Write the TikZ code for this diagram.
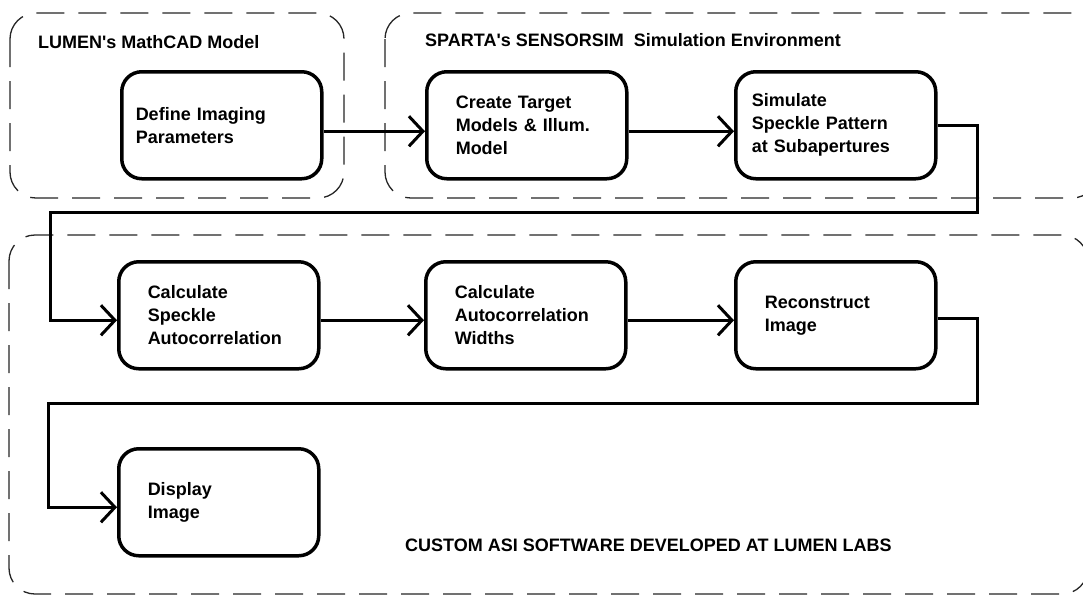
\documentclass[tikz,border=0pt]{standalone}
\usepackage{fontspec}
\setmainfont{Liberation Sans}
\usetikzlibrary{arrows.meta}
\begin{document}
\begin{tikzpicture}[x=1pt,y=-1pt,
  region/.style={draw=black!85, line width=1.3pt, dash pattern=on 28pt off 14pt, rounded corners=26pt},
  box/.style={draw, line width=3.5pt, rounded corners=20pt, minimum height=107pt, align=left, inner ysep=0pt, font=\bfseries\fontsize{18}{23}\selectfont},
  boxA/.style={box, inner xsep=29pt, text width=142pt},
  boxB/.style={box, inner xsep=14pt, text width=172pt},
  boxC/.style={box, inner xsep=16pt, text width=168pt},
  conn/.style={line width=3pt, -{Straight Barb[length=14pt,width=30pt]}},
  lbl/.style={font=\bfseries\fontsize{18}{22}\selectfont, inner sep=0pt}
]
\useasboundingbox (0,0) rectangle (1083,598);
\fill[white] (0,0) rectangle (1083,598);
\clip (0,0) rectangle (1083,598);
\draw[region] (10,13) rectangle (344,198);
\draw[region] (385,13) rectangle (1098,198);
\draw[region] (9,235) rectangle (1088,594);

\node[lbl, anchor=west] (lumen) at (38,42) {LUMEN\textquotesingle s MathCAD Model};
\node[lbl, anchor=west] (sparta) at (425,40) {SPARTA\textquotesingle s SENSORSIM\ \ Simulation Environment};
\node[lbl, anchor=west] (custom) at (405,545) {CUSTOM ASI SOFTWARE DEVELOPED AT LUMEN LABS};

\node[boxB, anchor=north west] (define) at (120,70) {Define Imaging\\Parameters};
\node[boxA, anchor=north west] (create) at (425,70) {Create Target\\Models \& Illum.\\Model};
\node[boxC, anchor=north west] (simulate) at (734,70) {Simulate\\Speckle Pattern\\at Subapertures};
\node[boxA, anchor=north west] (speckle) at (117,260) {Calculate\\Speckle\\Autocorrelation};
\node[boxA, anchor=north west] (widths) at (424,260) {Calculate\\Autocorrelation\\Widths};
\node[boxA, anchor=north west] (recon) at (734,260) {Reconstruct\\Image};
\node[boxA, anchor=north west] (display) at (117,447) {Display\\Image};

\coordinate (t1) at (977,212);
\coordinate (t2) at (50,212);
\coordinate (t3) at (977,403);
\coordinate (t4) at (48,403);

\draw[conn] ([yshift=-6pt]define.east) -- ([yshift=-6pt]create.west);
\draw[conn] ([yshift=-6pt]create.east) -- ([yshift=-6pt]simulate.west);
\draw[conn] (simulate.east) -| (t1) -- (t2) |- ([yshift=-5pt]speckle.west);
\draw[conn] ([yshift=-5pt]speckle.east) -- ([yshift=-5pt]widths.west);
\draw[conn] ([yshift=-5pt]widths.east) -- ([yshift=-5pt]recon.west);
\draw[conn] ([yshift=-3pt]recon.east) -| (t3) -- (t4) |- ([yshift=-5pt]display.west);
\end{tikzpicture}
\end{document}
